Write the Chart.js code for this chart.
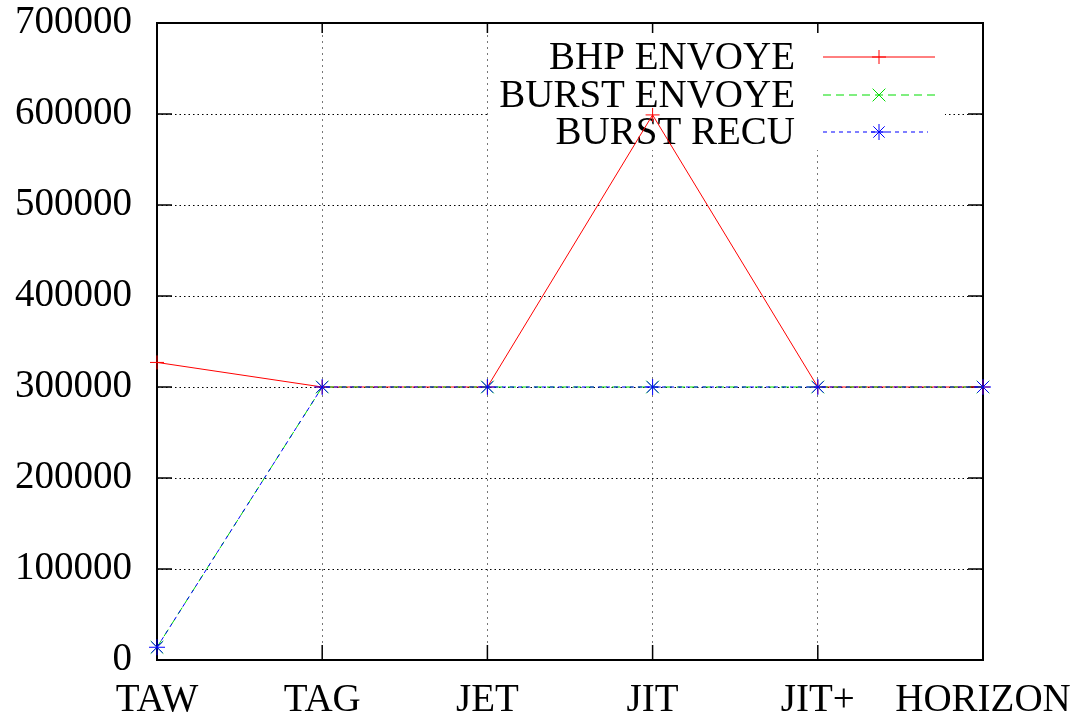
<!DOCTYPE html>
<html>
<head>
<meta charset="utf-8">
<script src="https://cdn.jsdelivr.net/npm/chart.js@4/dist/chart.umd.min.js"></script>
<style>
  html, body { margin: 0; padding: 0; background: #fff; }
  #wrap { width: 1083px; height: 715px; }
</style>
</head>
<body>
<div id="wrap"><canvas id="chart"></canvas></div>
<script>
// data
const categories = ['TAW', 'TAG', 'JET', 'JIT', 'JIT+', 'HORIZON'];
const bhpEnvoye = [327000, 300000, 300000, 599000, 300000, 300000];
const burstEnvoye = [14000, 300000, 300000, 300000, 300000, 300000];
const burstRecu = [14000, 300000, 300000, 300000, 300000, 300000];
const yMin = 0, yMax = 700000, yStep = 100000;

const FONT = 'Liberation Serif';

// gnuplot style frame, inner ticks and key
const gnuplotFrame = {
    id: 'gnuplotFrame',
    beforeDatasetsDraw(chart) {
        const { ctx, chartArea: a, scales } = chart;
        ctx.save();
        // white key box hides the grid behind the legend
        ctx.fillStyle = '#fff';
        ctx.fillRect(490, 30, 455, 120);

        ctx.strokeStyle = '#000';
        ctx.lineWidth = 2;
        ctx.strokeRect(a.left, a.top, a.right - a.left, a.bottom - a.top);

        ctx.lineWidth = 1.5;
        ctx.beginPath();
        scales.y.ticks.forEach((t, i) => {
            const y = scales.y.getPixelForTick(i);
            ctx.moveTo(a.left, y); ctx.lineTo(a.left + 15, y);
            ctx.moveTo(a.right, y); ctx.lineTo(a.right - 15, y);
        });
        scales.x.ticks.forEach((t, i) => {
            const x = scales.x.getPixelForTick(i);
            ctx.moveTo(x, a.bottom); ctx.lineTo(x, a.bottom - 15);
            ctx.moveTo(x, a.top); ctx.lineTo(x, a.top + 10);
        });
        ctx.stroke();

        // key
        const textRight = 795, lineL = 823, lineR = 935;
        const rows = [57, 95, 132];
        ctx.font = '39px "' + FONT + '"';
        ctx.textAlign = 'right';
        ctx.textBaseline = 'alphabetic';
        chart.data.datasets.forEach((ds, i) => {
            const y = rows[i];
            ctx.fillStyle = '#000';
            ctx.fillText(ds.label, textRight, y + 12);
            ctx.strokeStyle = ds.borderColor;
            ctx.lineWidth = 1;
            ctx.setLineDash(ds.borderDash || []);
            ctx.beginPath();
            ctx.moveTo(lineL, y); ctx.lineTo(ds.keyEnd || lineR, y);
            ctx.stroke();
            ctx.setLineDash([]);
            Chart.helpers.drawPoint(ctx, {
                pointStyle: ds.pointStyle, radius: ds.pointRadius,
                borderWidth: 1, rotation: 0
            }, (lineL + lineR) / 2, y);
        });
        ctx.restore();
    }
};

new Chart(document.getElementById('chart'), {
    type: 'line',
    data: {
        labels: categories,
        datasets: [
            {
                label: 'BHP ENVOYE', data: bhpEnvoye,
                borderColor: '#ff0000', backgroundColor: '#ff0000',
                borderWidth: 1, pointStyle: 'cross', pointRadius: 7,
                pointBorderWidth: 1, order: 3
            },
            {
                label: 'BURST ENVOYE', data: burstEnvoye,
                borderColor: '#00dd00', backgroundColor: '#00dd00',
                borderWidth: 1, borderDash: [8, 5], pointStyle: 'crossRot', pointRadius: 9,
                pointBorderWidth: 1, order: 2
            },
            {
                label: 'BURST RECU', data: burstRecu,
                borderColor: '#0000ff', backgroundColor: '#0000ff',
                borderWidth: 1, borderDash: [4, 4], pointStyle: 'star', pointRadius: 8,
                pointBorderWidth: 1, order: 1, keyEnd: 928
            }
        ]
    },
    options: {
        responsive: true,
        maintainAspectRatio: false,
        animation: false,
        clip: false,
        layout: { padding: { top: 23, right: 100, left: 12, bottom: 0 } },
        plugins: {
            legend: { display: false },
            tooltip: { enabled: false }
        },
        elements: { line: { tension: 0 } },
        scales: {
            x: {
                offset: false,
                grid: { color: '#777', lineWidth: 1, drawTicks: false },
                border: { display: false, dash: [2, 4] },
                ticks: {
                    color: '#000', padding: 23, maxRotation: 0, autoSkip: false,
                    font: { family: FONT, size: 39, lineHeight: 0.9 }
                },
                afterFit: s => { s.height = 55; s.paddingLeft = 0; s.paddingRight = 0; }
            },
            y: {
                min: yMin, max: yMax,
                grid: { color: '#000', lineWidth: 1, drawTicks: false },
                border: { display: false, dash: [1.5, 3] },
                ticks: {
                    stepSize: yStep, color: '#000', padding: 25,
                    font: { family: FONT, size: 39 },
                    callback: v => String(v)
                },
                afterFit: s => { s.width = 145; s.paddingTop = 0; s.paddingBottom = 0; }
            }
        }
    },
    plugins: [gnuplotFrame]
});
</script>
</body>
</html>
